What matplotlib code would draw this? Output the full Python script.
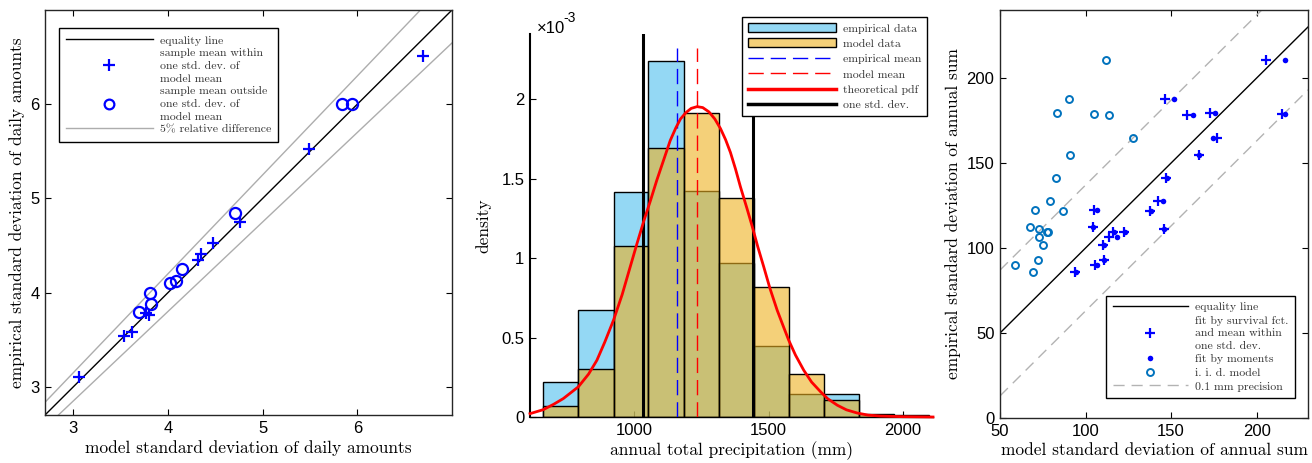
import numpy as np
import matplotlib
matplotlib.use('Agg')
import matplotlib.pyplot as plt
from matplotlib.lines import Line2D
from matplotlib.patches import Patch
from matplotlib.ticker import FuncFormatter

plt.rcParams['font.family'] = ['Liberation Sans', 'DejaVu Sans']
SERIF = ['cmr10', 'DejaVu Serif']

# ---------------- left panel: std. dev. of daily amounts
within_x = [3.06, 3.53, 3.62, 3.77, 3.80, 4.32, 4.35, 4.48, 4.76, 5.49, 6.69]
within_y = [3.10, 3.54, 3.58, 3.78, 3.76, 4.35, 4.41, 4.53, 4.75, 5.52, 6.51]
outside_x = [3.69, 3.81, 3.82, 4.02, 4.08, 4.15, 4.71, 5.84, 5.94]
outside_y = [3.79, 3.99, 3.88, 4.10, 4.12, 4.25, 4.84, 6.00, 6.00]

# ---------------- middle panel: annual totals (density in units of 1e-3)
bin_edges = [662, 792, 923, 1053, 1184, 1314, 1445, 1575, 1706, 1836, 1967, 2097]
emp_density = [0.22, 0.672, 1.418, 2.24, 1.42, 0.97, 0.445, 0.147, 0.147, 0.0, 0.0]
mod_density = [0.067, 0.305, 1.076, 1.691, 1.916, 1.38, 0.819, 0.273, 0.11, 0.018, 0.012]
emp_mean = 1160
mod_mean = 1235
std_lo = 1032
std_hi = 1441
pdf_x = [612, 661, 700, 736, 792, 830, 861, 890, 923, 955, 985, 1010, 1035, 1060,
         1084, 1110, 1134, 1155, 1172, 1192, 1212, 1234, 1255, 1278, 1300, 1321,
         1340, 1358, 1377, 1395, 1420, 1439, 1460, 1482, 1505, 1532, 1555, 1575,
         1600, 1631, 1660, 1694, 1720, 1756, 1790, 1830, 1870, 1917, 2000, 2112]
pdf_y = [0.021, 0.046, 0.08, 0.116, 0.19, 0.27, 0.357, 0.47, 0.61, 0.77, 0.945, 1.09,
         1.23, 1.36, 1.49, 1.62, 1.74, 1.82, 1.875, 1.915, 1.942, 1.953, 1.947, 1.92,
         1.875, 1.815, 1.745, 1.665, 1.56, 1.45, 1.31, 1.20, 1.07, 0.945, 0.81, 0.672,
         0.57, 0.483, 0.39, 0.294, 0.22, 0.158, 0.115, 0.074, 0.045, 0.025, 0.012,
         0.006, 0.002, 0.0]

# ---------------- right panel: std. dev. of annual sum (one row per station)
emp_sd = [210.6, 187.6, 179.6, 178.8, 178.2, 164.5, 154.5, 141.0, 127.8, 122.4,
          121.6, 112.2, 111.2, 109.4, 109.4, 106.7, 101.9, 92.8, 90.0, 86.1]
surv_sd = [205.5, 146.6, 172.9, 214.7, 159.4, 177.1, 166.1, 147.3, 142.2, 104.7,
           137.7, 104.2, 145.7, 115.9, 122.2, 113.5, 110.3, 110.5, 105.7, 93.6]
mom_sd = [216.7, 151.4, 175.5, 216.7, 162.7, 174.5, 166.3, 147.8, 145.1, 106.4,
          138.2, 104.5, 146.0, 116.7, 123.1, 118.6, 110.9, 110.8, 106.9, 94.5]
iid_sd = [111.8, 90.2, 83.3, 104.9, 113.7, 128.0, 91.2, 82.8, 79.3, 70.6,
          86.6, 67.6, 73.0, 77.2, 78.3, 72.7, 75.2, 72.0, 58.5, 69.3]

BLUE = (0, 0, 1)
MBLUE = (0, 0.447, 0.741)
HBLUE = (0.30, 0.745, 0.933, 0.6)
HORANGE = (0.929, 0.694, 0.125, 0.6)
SPINE = '#262626'

fig = plt.figure(figsize=(13.12, 4.63), dpi=100)
W, H = 1312, 463
ax1 = fig.add_axes([45 / W, 48 / H, 407 / W, 405 / H])
ax2 = fig.add_axes([530 / W, 46 / H, 403 / W, 383 / H])
ax3 = fig.add_axes([1000 / W, 45 / H, 308 / W, 408 / H])

lab = dict(fontfamily=SERIF, fontsize=12.5)
leg_font = {'family': SERIF, 'size': 8.5}


def style_legend(leg, ls):
    leg.get_frame().set_linewidth(1.0)
    for t in leg.get_texts():
        t.set_linespacing(ls)


# ---- panel 1
lim1 = np.array([2.7, 7.0])
ax1.plot(lim1, lim1, color='black', lw=1)
ax1.plot(lim1, 1.05 * lim1, color='0.68', lw=1)
ax1.plot(lim1, 0.95 * lim1, color='0.68', lw=1)
ax1.plot(within_x, within_y, '+', color=BLUE, ms=9, mew=1.6)
ax1.plot(outside_x, outside_y, 'o', color=BLUE, mfc='none', ms=8, mew=1.6)
ax1.set_xlim(lim1)
ax1.set_ylim(lim1)
ax1.set_xticks([3, 4, 5, 6])
ax1.set_yticks([3, 4, 5, 6])
ax1.set_xlabel('model standard deviation of daily amounts', labelpad=3, **lab)
ax1.set_ylabel('empirical standard deviation of daily amounts', labelpad=4, **lab)
h1 = [Line2D([], [], color='black', lw=1),
      Line2D([], [], ls='none', marker='+', color=BLUE, ms=8, mew=1.6),
      Line2D([], [], ls='none', marker='o', color=BLUE, mfc='none', ms=7, mew=1.6),
      Line2D([], [], color='0.68', lw=1)]
l1 = ['equality line', 'sample mean within\none std. dev. of\nmodel mean',
      'sample mean outside\none std. dev. of\nmodel mean', '5% relative difference']
leg = ax1.legend(h1, l1, loc='upper left', bbox_to_anchor=(0.035, 0.955), prop=leg_font,
                 handlelength=7.3, handletextpad=0.6, labelspacing=0.2, borderpad=0.6,
                 borderaxespad=0, fancybox=False, framealpha=1, edgecolor='black',
                 labelcolor='#333333')
style_legend(leg, 1.45)

# ---- panel 2
edges = np.array(bin_edges)
widths = np.diff(edges)
ax2.bar(edges[:-1], emp_density, width=widths, align='edge', facecolor=HBLUE,
        edgecolor='black', lw=1, zorder=2)
ax2.bar(edges[:-1], mod_density, width=widths, align='edge', facecolor=HORANGE,
        edgecolor='black', lw=1, zorder=2)
ax2.plot([emp_mean, emp_mean], [0, 2.32], color='blue', lw=1, dashes=(11, 5), zorder=3)
ax2.plot([mod_mean, mod_mean], [0, 2.32], color='red', lw=1, dashes=(11, 5), zorder=3)
ax2.plot([std_lo, std_lo], [0, 2.41], color='black', lw=2.2, zorder=3)
ax2.plot([std_hi, std_hi], [0, 2.41], color='black', lw=2.2, zorder=3)
ax2.plot(pdf_x, pdf_y, color='red', lw=2, zorder=4, clip_on=False)
ax2.set_xlim(612, 2112)
ax2.set_ylim(0, 2.41)
ax2.set_xticks([1000, 1500, 2000])
ax2.set_yticks([0, 0.5, 1, 1.5, 2])
ax2.yaxis.set_major_formatter(FuncFormatter(lambda v, p: '%g' % v))
ax2.spines['top'].set_visible(False)
ax2.spines['right'].set_visible(False)
ax2.set_axisbelow(True)
ax2.set_xlabel('annual total precipitation (mm)', labelpad=3, **lab)
ax2.set_ylabel('density', labelpad=7, **lab)
fig.text(537 / W, 1 - 33 / H, '\u00d710', fontsize=12, ha='left', va='baseline')
fig.text(563 / W, 1 - 22 / H, '-3', fontsize=10, ha='left', va='baseline')
h2 = [Patch(facecolor=HBLUE, edgecolor='black', lw=1),
      Patch(facecolor=HORANGE, edgecolor='black', lw=1),
      Line2D([], [], color='blue', lw=1, dashes=(11, 5)),
      Line2D([], [], color='red', lw=1, dashes=(11, 5)),
      Line2D([], [], color='red', lw=2.5),
      Line2D([], [], color='black', lw=2.5)]
l2 = ['empirical data', 'model data', 'empirical mean', 'model mean',
      'theoretical pdf', 'one std. dev.']
leg = ax2.legend(h2, l2, loc='upper right', bbox_to_anchor=(0.985, 1.044), prop=leg_font,
                 handlelength=7.4, handleheight=0.8, handletextpad=0.6, labelspacing=0.4,
                 borderpad=0.5, borderaxespad=0, fancybox=False, framealpha=1,
                 edgecolor='black', labelcolor='#333333')
style_legend(leg, 1.2)
leg.set_zorder(10)

# ---- panel 3
lim3 = np.array([50.0, 230.0])
ax3.plot(lim3, lim3, color='black', lw=1)
ax3.plot(lim3, lim3 + 37, color='0.7', lw=1, dashes=(8, 5))
ax3.plot(lim3, lim3 - 37, color='0.7', lw=1, dashes=(8, 5))
ax3.plot(surv_sd, emp_sd, '+', color=BLUE, ms=7, mew=1.6)
ax3.plot(mom_sd, emp_sd, 'o', color=BLUE, ms=4, mew=0)
ax3.plot(iid_sd, emp_sd, 'o', color=MBLUE, mfc='none', ms=5, mew=1.4)
ax3.set_xlim(lim3)
ax3.set_ylim(0, 240)
ax3.set_xticks([50, 100, 150, 200])
ax3.set_yticks([0, 50, 100, 150, 200])
ax3.set_xlabel('model standard deviation of annual sum', labelpad=3, **lab)
ax3.set_ylabel('empirical standard deviation of annual sum', labelpad=4, **lab)
h3 = [Line2D([], [], color='black', lw=1),
      Line2D([], [], ls='none', marker='+', color=BLUE, ms=7, mew=1.6),
      Line2D([], [], ls='none', marker='o', color=BLUE, ms=4, mew=0),
      Line2D([], [], ls='none', marker='o', color=MBLUE, mfc='none', ms=5, mew=1.4),
      Line2D([], [], color='0.7', lw=1, dashes=(8, 5))]
l3 = ['equality line', 'fit by survival fct.\nand mean within\none std. dev.',
      'fit by moments', 'i. i. d. model', '0.1 mm precision']
leg = ax3.legend(h3, l3, loc='lower right', bbox_to_anchor=(0.958, 0.049), prop=leg_font,
                 handlelength=6.4, handletextpad=0.6, labelspacing=0.28, borderpad=0.55,
                 borderaxespad=0, fancybox=False, framealpha=1, edgecolor='black',
                 labelcolor='#333333')
style_legend(leg, 1.4)

for ax in (ax1, ax2, ax3):
    box = ax is not ax2
    ax.tick_params(direction='in', length=4, width=0.8, labelsize=12,
                   top=box, right=box, pad=4)
    for s in ax.spines.values():
        s.set_color(SPINE if box else 'black')
        s.set_linewidth(1.0)
ax2.spines['left'].set_linewidth(1.5)

fig.savefig('out.png', dpi=100)
